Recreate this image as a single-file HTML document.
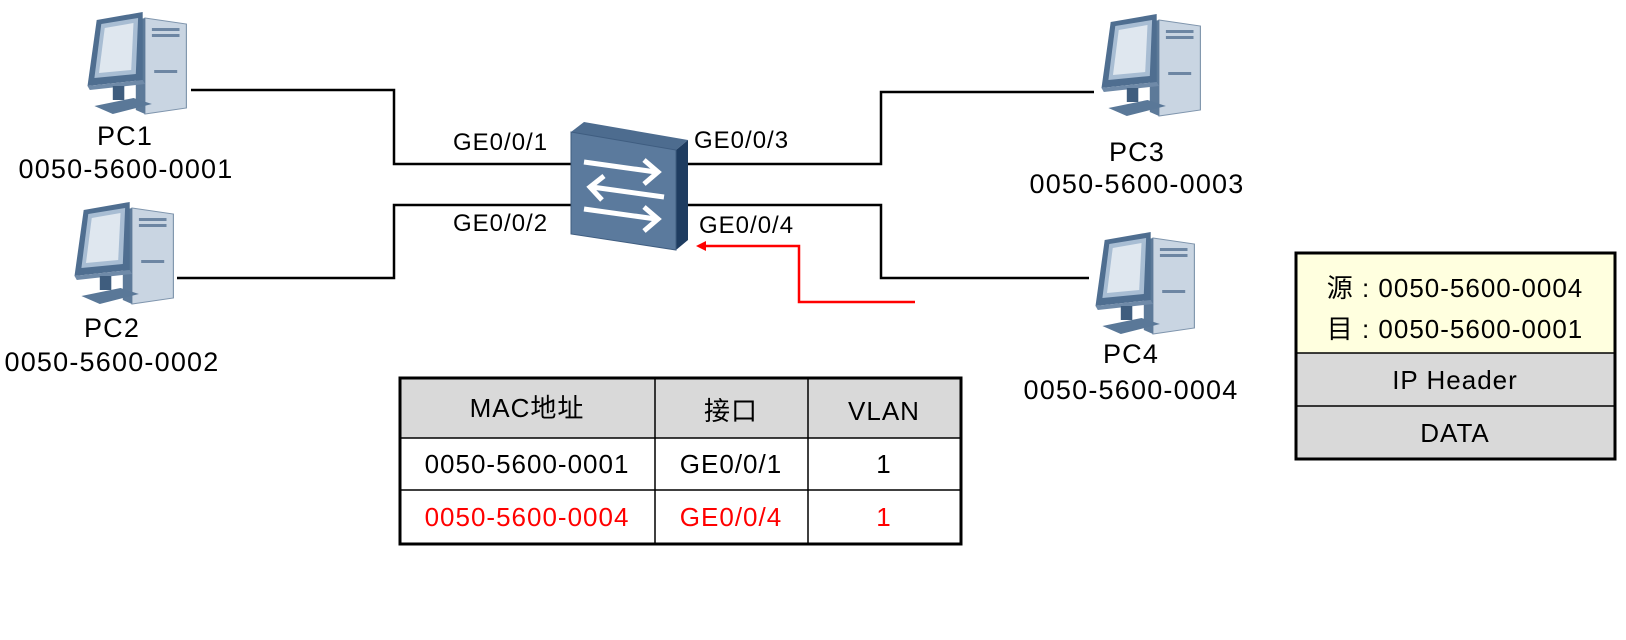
<!DOCTYPE html>
<html><head><meta charset="utf-8"><style>
html,body{margin:0;padding:0;background:#fff;}
body{width:1626px;height:635px;overflow:hidden;position:relative;}
svg text{font-family:"Liberation Sans","Noto Sans CJK SC",sans-serif;}
</style></head><body>
<svg width="1626" height="635" viewBox="0 0 1626 635" xmlns="http://www.w3.org/2000/svg">
<defs>
<g id="pc">
  <polygon points="60,8 96,14 96,98 60,104" fill="#c9d5e2" stroke="#7f95ad" stroke-width="1"/>
  <polygon points="52,10 60,8 60,104 52,100" fill="#5d7a99"/>
  <rect x="66" y="18" width="24" height="3" fill="#6d86a3"/>
  <rect x="66" y="24" width="24" height="3" fill="#6d86a3"/>
  <rect x="68" y="60" width="20" height="3" fill="#6d86a3"/>
  <polygon points="18,10 58,2 58,70 10,76" fill="#4f6e90"/>
  <polygon points="22,14 54,8 52,64 16,68" fill="#a8bdd3"/>
  <polygon points="25,18 50,13 48,60 20,63" fill="#dfe7ef"/>
  <polygon points="10,76 58,70 60,74 12,80" fill="#6f8aa8"/>
  <rect x="32" y="76" width="10" height="14" fill="#3f5d7e"/>
  <polygon points="16,96 50,88 66,94 32,104" fill="#5a7898"/>
</g>
</defs>

<g fill="none" stroke="#000" stroke-width="2.5">
  <polyline points="191,90 394,90 394,164 571,164"/>
  <polyline points="177,278 394,278 394,205 571,205"/>
  <polyline points="688,164 881,164 881,92 1094,92"/>
  <polyline points="688,205 881,205 881,278 1089,278"/>
</g>
<polyline points="915,302 799,302 799,246 702,246" fill="none" stroke="#f00" stroke-width="2.5"/>
<polygon points="696,246 706,241 706,251" fill="#f00"/>

<use href="#pc" transform="translate(76,10) scale(1.15,1)"/>
<use href="#pc" transform="translate(63,200) scale(1.15,1)"/>
<use href="#pc" transform="translate(1090,12) scale(1.15,1)"/>
<use href="#pc" transform="translate(1084,230) scale(1.15,1)"/>

<g>
  <polygon points="571,132 584,122 688,140 676,150" fill="#4d6c8f"/>
  <polygon points="676,150 688,140 688,240 676,250" fill="#1e3c60"/>
  <polygon points="571,132 676,150 676,250 571,234" fill="#5b7a9d" stroke="#3f5d80" stroke-width="1"/>
  <g fill="none" stroke="#fff" stroke-width="5" stroke-linejoin="miter">
    <line x1="584" y1="162" x2="656" y2="172"/>
    <polyline points="644,160 658,172 644,184"/>
    <line x1="592" y1="187" x2="664" y2="197"/>
    <polyline points="604,176 590,187 602,200"/>
    <line x1="584" y1="209" x2="656" y2="219"/>
    <polyline points="644,207 658,219 644,231"/>
  </g>
</g>

<g font-size="27" fill="#000" text-anchor="middle" letter-spacing="1.2">
  <text x="125" y="145">PC1</text>
  <text x="126" y="178">0050-5600-0001</text>
  <text x="112" y="337">PC2</text>
  <text x="112" y="371">0050-5600-0002</text>
  <text x="1137" y="161">PC3</text>
  <text x="1137" y="193">0050-5600-0003</text>
  <text x="1131" y="363">PC4</text>
  <text x="1131" y="399">0050-5600-0004</text>
</g>
<g font-size="24" fill="#000" letter-spacing="1">
  <text x="453" y="150">GE0/0/1</text>
  <text x="453" y="231">GE0/0/2</text>
  <text x="694" y="148">GE0/0/3</text>
  <text x="699" y="233">GE0/0/4</text>
</g>

<rect x="400" y="378" width="561" height="60" fill="#d9d9d9"/>
<g stroke="#000" stroke-width="1.5" fill="none">
  <line x1="400" y1="438" x2="961" y2="438"/>
  <line x1="400" y1="490" x2="961" y2="490"/>
  <line x1="655" y1="378" x2="655" y2="544"/>
  <line x1="808" y1="378" x2="808" y2="544"/>
</g>
<rect x="400" y="378" width="561" height="166" fill="none" stroke="#000" stroke-width="3"/>
<g font-size="26" text-anchor="middle" letter-spacing="1">
  <text x="527" y="417">MAC地址</text>
  <text x="731" y="420">接口</text>
  <text x="884" y="420">VLAN</text>
  <text x="527" y="473">0050-5600-0001</text>
  <text x="731" y="473">GE0/0/1</text>
  <text x="884" y="473">1</text>
  <text x="527" y="526" fill="#f00">0050-5600-0004</text>
  <text x="731" y="526" fill="#f00">GE0/0/4</text>
  <text x="884" y="526" fill="#f00">1</text>
</g>

<rect x="1296" y="253" width="319" height="100" fill="#ffffdf"/>
<rect x="1296" y="353" width="319" height="106" fill="#d9d9d9"/>
<line x1="1296" y1="353" x2="1615" y2="353" stroke="#000" stroke-width="1.5"/>
<line x1="1296" y1="406" x2="1615" y2="406" stroke="#000" stroke-width="1.5"/>
<rect x="1296" y="253" width="319" height="206" fill="none" stroke="#000" stroke-width="3"/>
<g font-size="26" text-anchor="middle" letter-spacing="1">
  <text x="1455" y="297">源 : 0050-5600-0004</text>
  <text x="1455" y="338">目 : 0050-5600-0001</text>
  <text x="1455" y="389">IP Header</text>
  <text x="1455" y="442">DATA</text>
</g>
</svg>
</body></html>
